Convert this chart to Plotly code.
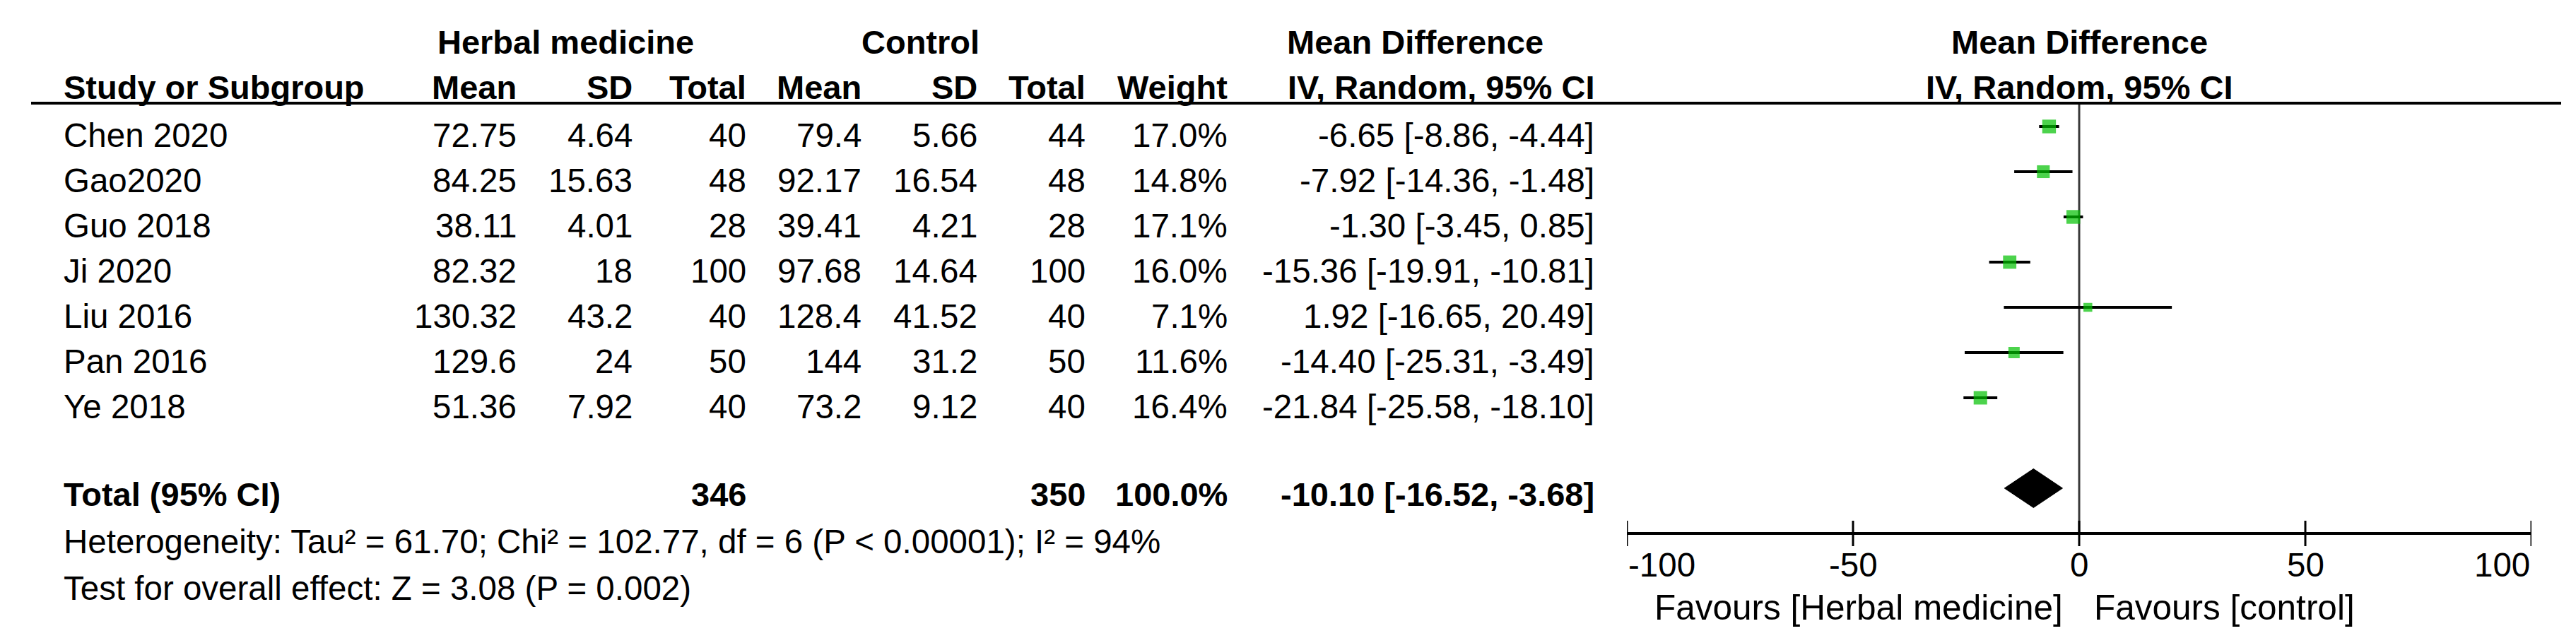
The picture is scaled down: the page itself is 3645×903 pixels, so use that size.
import plotly.graph_objects as go
import math

# ---------------- data ----------------
studies = ["Chen 2020", "Gao2020", "Guo 2018", "Ji 2020", "Liu 2016", "Pan 2016", "Ye 2018"]
herb_mean = [72.75, 84.25, 38.11, 82.32, 130.32, 129.6, 51.36]
herb_sd = [4.64, 15.63, 4.01, 18, 43.2, 24, 7.92]
herb_n = [40, 48, 28, 100, 40, 50, 40]
ctrl_mean = [79.4, 92.17, 39.41, 97.68, 128.4, 144, 73.2]
ctrl_sd = [5.66, 16.54, 4.21, 14.64, 41.52, 31.2, 9.12]
ctrl_n = [44, 48, 28, 100, 40, 50, 40]
weight = [17.0, 14.8, 17.1, 16.0, 7.1, 11.6, 16.4]
md = [-6.65, -7.92, -1.30, -15.36, 1.92, -14.40, -21.84]
ci_lo = [-8.86, -14.36, -3.45, -19.91, -16.65, -25.31, -25.58]
ci_hi = [-4.44, -1.48, 0.85, -10.81, 20.49, -3.49, -18.10]

total_herb_n = 346
total_ctrl_n = 350
total_weight = 100.0
total_md = -10.10
total_lo = -16.52
total_hi = -3.68

tick_vals = [-100, -50, 0, 50, 100]
tick_text = ["-100", "-50", "0", "50", "100"]

heterogeneity = "Heterogeneity: Tau² = 61.70; Chi² = 102.77, df = 6 (P < 0.00001); I² = 94%"
overall = "Test for overall effect: Z = 3.08 (P = 0.002)"
fav_left = "Favours [Herbal medicine]"
fav_right = "Favours [control]"

# ---------------- layout helpers ----------------
W, H = 3645, 903
ROW0, ROWH = 171.0, 64.0          # pixel of row 0 marker centre, row height
def p2r(p):
    return (p - ROW0) / ROWH

rows = list(range(len(studies)))
total_row = 8
axis_row = 9
TXT = 12 / ROWH                   # text sits slightly lower than marks

FONT = "Liberation Sans, Arial, sans-serif"
FS = 47.5
FSB = 47
FSF = 49.5

fig = go.Figure()

# zero line
fig.add_shape(type="line", xref="x", yref="y", x0=0, x1=0,
              y0=p2r(138), y1=axis_row, line=dict(color="#3a3a3a", width=3), layer="below")

# confidence interval lines (drawn first, under the squares)
cx, cy = [], []
for r, lo, hi in zip(rows, ci_lo, ci_hi):
    cx += [lo, hi, None]
    cy += [r, r, None]
fig.add_trace(go.Scatter(x=cx, y=cy, mode="lines", line=dict(color="black", width=4),
                         showlegend=False, hoverinfo="skip"))

# study estimates
fig.add_trace(go.Scatter(
    x=md, y=rows, mode="markers",
    marker=dict(symbol="square", color="#00C000", size=[4.7 * math.sqrt(w) for w in weight],
                line=dict(width=0)),
    showlegend=False, hoverinfo="skip"))

# pooled diamond
dh = 27.5 / ROWH
fig.add_trace(go.Scatter(
    x=[total_lo, total_md, total_hi, total_md, total_lo],
    y=[total_row, total_row - dh, total_row, total_row + dh, total_row],
    mode="lines", fill="toself", fillcolor="black",
    line=dict(color="black", width=1), showlegend=False, hoverinfo="skip"))

# tick marks (above and below axis line)
tl = 18 / ROWH
tx, ty = [], []
for t in tick_vals:
    tx += [t, t, None]
    ty += [axis_row - tl, axis_row + tl, None]
fig.add_trace(go.Scatter(x=tx, y=ty, mode="lines", line=dict(color="black", width=3),
                         showlegend=False, hoverinfo="skip"))

ann = []
def txt(text, xp, r, anchor="right", bold=False, xref="paper", xshift=0, size=None):
    ann.append(dict(text=f"<b>{text}</b>" if bold else text,
                    x=xp / W if xref == "paper" else xp, xref=xref, xshift=xshift,
                    y=r, yref="y", xanchor=anchor, yanchor="middle",
                    showarrow=False,
                    font=dict(family=FONT, size=size or (FSB if bold else FS), color="black")))

# header row 1
hr1 = p2r(51)
txt("Herbal medicine", 792, hr1, "center", True)
txt("Control", 1294, hr1, "center", True)
txt("Mean Difference", 1995, hr1, "center", True)
txt("Mean Difference", 0, hr1, "center", True, xref="x")
# header row 2
hr2 = p2r(115)
txt("Study or Subgroup", 80, hr2, "left", True)
col_x = [725, 889, 1050, 1213, 1377, 1530, 1731, 2250]
for name, xp in zip(["Mean", "SD", "Total", "Mean", "SD", "Total", "Weight", "IV, Random, 95% CI"], col_x):
    txt(name, xp, hr2, "right", True)
txt("IV, Random, 95% CI", 0, hr2, "center", True, xref="x")

# header separator line
fig.add_shape(type="line", xref="paper", yref="y", x0=36 / W, x1=3616 / W,
              y0=p2r(138), y1=p2r(138), line=dict(color="black", width=4))

def fmt(v):
    return f"{v:g}"

for i, s in enumerate(studies):
    r = rows[i] + TXT
    txt(s, 80, r, "left")
    vals = [fmt(herb_mean[i]), fmt(herb_sd[i]), str(herb_n[i]),
            fmt(ctrl_mean[i]), fmt(ctrl_sd[i]), str(ctrl_n[i]),
            f"{weight[i]:.1f}%",
            f"{md[i]:.2f} [{ci_lo[i]:.2f}, {ci_hi[i]:.2f}]"]
    for v, xp in zip(vals, col_x):
        txt(v, xp, r, "right")

# total row
r = p2r(691)
txt("Total (95% CI)", 80, r, "left", True)
txt(str(total_herb_n), 1050, r, "right", True)
txt(str(total_ctrl_n), 1530, r, "right", True)
txt(f"{total_weight:.1f}%", 1731, r, "right", True)
txt(f"{total_md:.2f} [{total_lo:.2f}, {total_hi:.2f}]", 2250, r, "right", True)

txt(heterogeneity, 80, p2r(758), "left")
txt(overall, 80, p2r(824), "left")

# tick labels
for t, lab in zip(tick_vals, tick_text):
    anchor = "left" if t == tick_vals[0] else ("right" if t == tick_vals[-1] else "center")
    txt(lab, t, p2r(791), anchor, xref="x")

# favours
txt(fav_left, 0, p2r(851), "right", xref="x", xshift=-21, size=FSF)
txt(fav_right, 0, p2r(851), "left", xref="x", xshift=19, size=FSF)

fig.update_layout(
    width=W, height=H, margin=dict(l=0, r=0, t=0, b=0),
    paper_bgcolor="white", plot_bgcolor="white",
    annotations=ann,
    xaxis=dict(domain=[2294 / W, 3574 / W], range=[-100, 100],
               showgrid=False, zeroline=False, showticklabels=False, ticks="",
               showline=True, linecolor="black", linewidth=4,
               anchor="free", position=1 - 747 / H, fixedrange=True),
    yaxis=dict(domain=[0, 1], range=[p2r(H), p2r(0)], visible=False, fixedrange=True),
)

fig.write_html("out.html")
